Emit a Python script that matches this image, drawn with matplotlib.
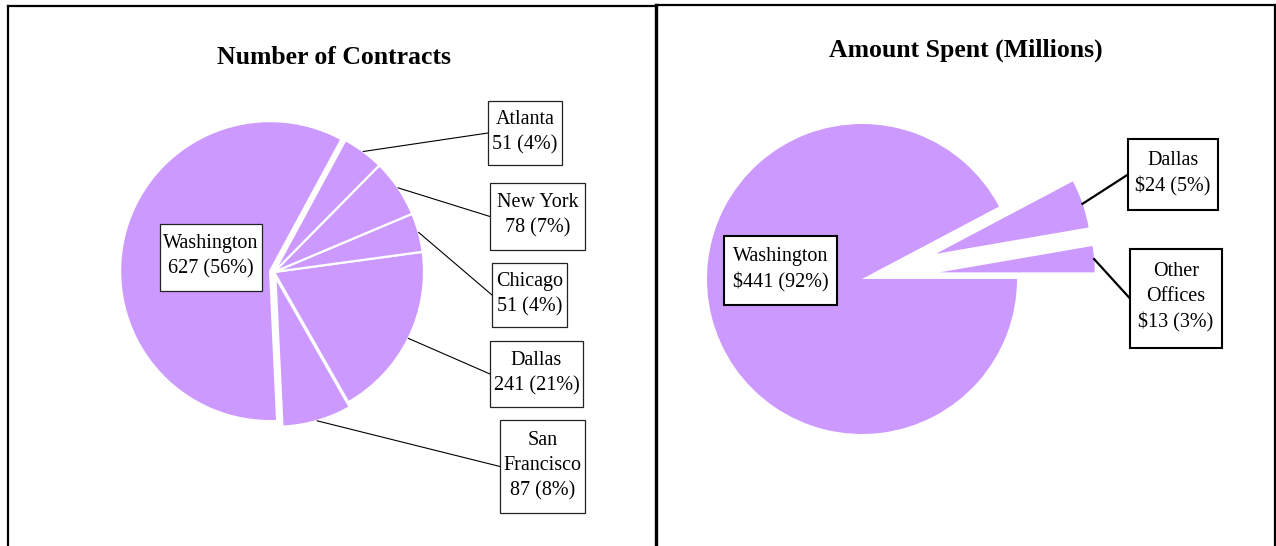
import numpy as np
import matplotlib
matplotlib.use("Agg")
import matplotlib.pyplot as plt
from matplotlib.lines import Line2D
from matplotlib.patches import Rectangle

plt.rcParams['font.family'] = ['Liberation Serif', 'DejaVu Serif']

# ---- data ----
left_title = "Number of Contracts"
left_cities = ["San Francisco", "Dallas", "Chicago", "New York", "Atlanta", "Washington"]
left_counts = [87, 241, 51, 78, 51, 627]
left_pcts = [8, 21, 4, 7, 4, 56]
# slice sizes as drawn in the picture (percent of the circle)
left_slice_share = [7.5, 18.9, 4.2, 6.25, 4.5, 58.65]

right_title = "Amount Spent (Millions)"
right_offices = ["Other Offices", "Dallas", "Washington"]
right_amounts = [13, 24, 441]
right_pcts = [3, 5, 92]
right_label_names = ["Other\nOffices", "Dallas", "Washington"]
left_label_names = ["San\nFrancisco", "Dallas", "Chicago", "New York", "Atlanta", "Washington"]

# ---- layout (pixels, image coords: y down) ----
W, H = 1276, 546
COLOR = "#CC99FF"

fig = plt.figure(figsize=(W / 100, H / 100), dpi=100)
ax = fig.add_axes([0, 0, 1, 1])

def Y(y):
    return H - y

# left pie
lw, _ = ax.pie(left_slice_share, center=(274, Y(272)), radius=150, startangle=-87.3,
               counterclock=True, colors=[COLOR] * len(left_slice_share),
               explode=[5, 0, 0, 0, 0, 4],
               wedgeprops=dict(edgecolor="white", linewidth=1.6))
# right pie
rw, _ = ax.pie(right_amounts, center=(862, Y(279)), radius=155, startangle=0,
               counterclock=True, colors=[COLOR] * len(right_amounts),
               explode=[78, 78, 0],
               wedgeprops=dict(edgecolor="none", linewidth=0))

ax.set_xlim(0, W)
ax.set_ylim(0, H)
ax.set_aspect('auto')
ax.axis('off')

def rim_point(w, frac=0.5):
    ang = np.deg2rad(w.theta1 + (w.theta2 - w.theta1) * frac)
    cx, cy = w.center
    return cx + w.r * np.cos(ang), cy + w.r * np.sin(ang)

def label_box(x0, x1, y0, y1, text, lw_box, ec):
    ax.add_patch(Rectangle((x0, Y(y1)), x1 - x0, y1 - y0, facecolor='white',
                           edgecolor=ec, linewidth=lw_box, zorder=5))
    ax.text((x0 + x1) / 2, Y((y0 + y1) / 2) + 1, text, ha='center', va='center',
            multialignment='center', fontsize=14.5, linespacing=1.42, zorder=6)

# left label boxes (x0, x1, y0, y1) and connectors
left_boxes = {
    "San Francisco": (500, 585, 420, 513),
    "Dallas": (490, 583, 341, 407),
    "Chicago": (492, 567, 263, 327),
    "New York": (490, 585, 183, 250),
    "Atlanta": (488, 562, 101, 165),
    "Washington": (160, 262, 224, 291),
}
for w, name, lname, cnt, pct in zip(lw, left_cities, left_label_names, left_counts, left_pcts):
    x0, x1, y0, y1 = left_boxes[name]
    label_box(x0, x1, y0, y1, f"{lname}\n{cnt} ({pct}%)", 0.9, '#222222')
    if name != "Washington":
        px, py = rim_point(w)
        ax.add_line(Line2D([px, x0], [py, Y((y0 + y1) / 2)], color='black',
                           linewidth=0.8, zorder=4))

right_boxes = {
    "Other Offices": (1130, 1222, 249, 348),
    "Dallas": (1128, 1218, 139, 210),
    "Washington": (724, 837, 236, 305),
}
for w, name, lname, amt, pct in zip(rw, right_offices, right_label_names, right_amounts, right_pcts):
    x0, x1, y0, y1 = right_boxes[name]
    label_box(x0, x1, y0, y1, f"{lname}\n${amt} ({pct}%)", 1.5, 'black')
    if name != "Washington":
        px, py = rim_point(w)
        ax.add_line(Line2D([px, x0], [py, Y((y0 + y1) / 2)], color='black',
                           linewidth=1.6, zorder=4))

# titles
ax.text(334, Y(58), left_title, ha='center', va='center', fontsize=18.5, fontweight='bold')
ax.text(966, Y(50), right_title, ha='center', va='center', fontsize=18.5, fontweight='bold')

# panel borders
ax.add_line(Line2D([8, 657], [Y(6), Y(6)], color='black', linewidth=1.6))
ax.add_line(Line2D([8, 8], [Y(6), 0], color='black', linewidth=1.6))
ax.add_line(Line2D([656, 656], [Y(5), 0], color='black', linewidth=2.4))
ax.add_line(Line2D([656, 1276], [Y(5), Y(5)], color='black', linewidth=1.6))
ax.add_line(Line2D([1275, 1275], [Y(5), 0], color='black', linewidth=1.6))

fig.savefig("out.png", dpi=100, facecolor='white')
